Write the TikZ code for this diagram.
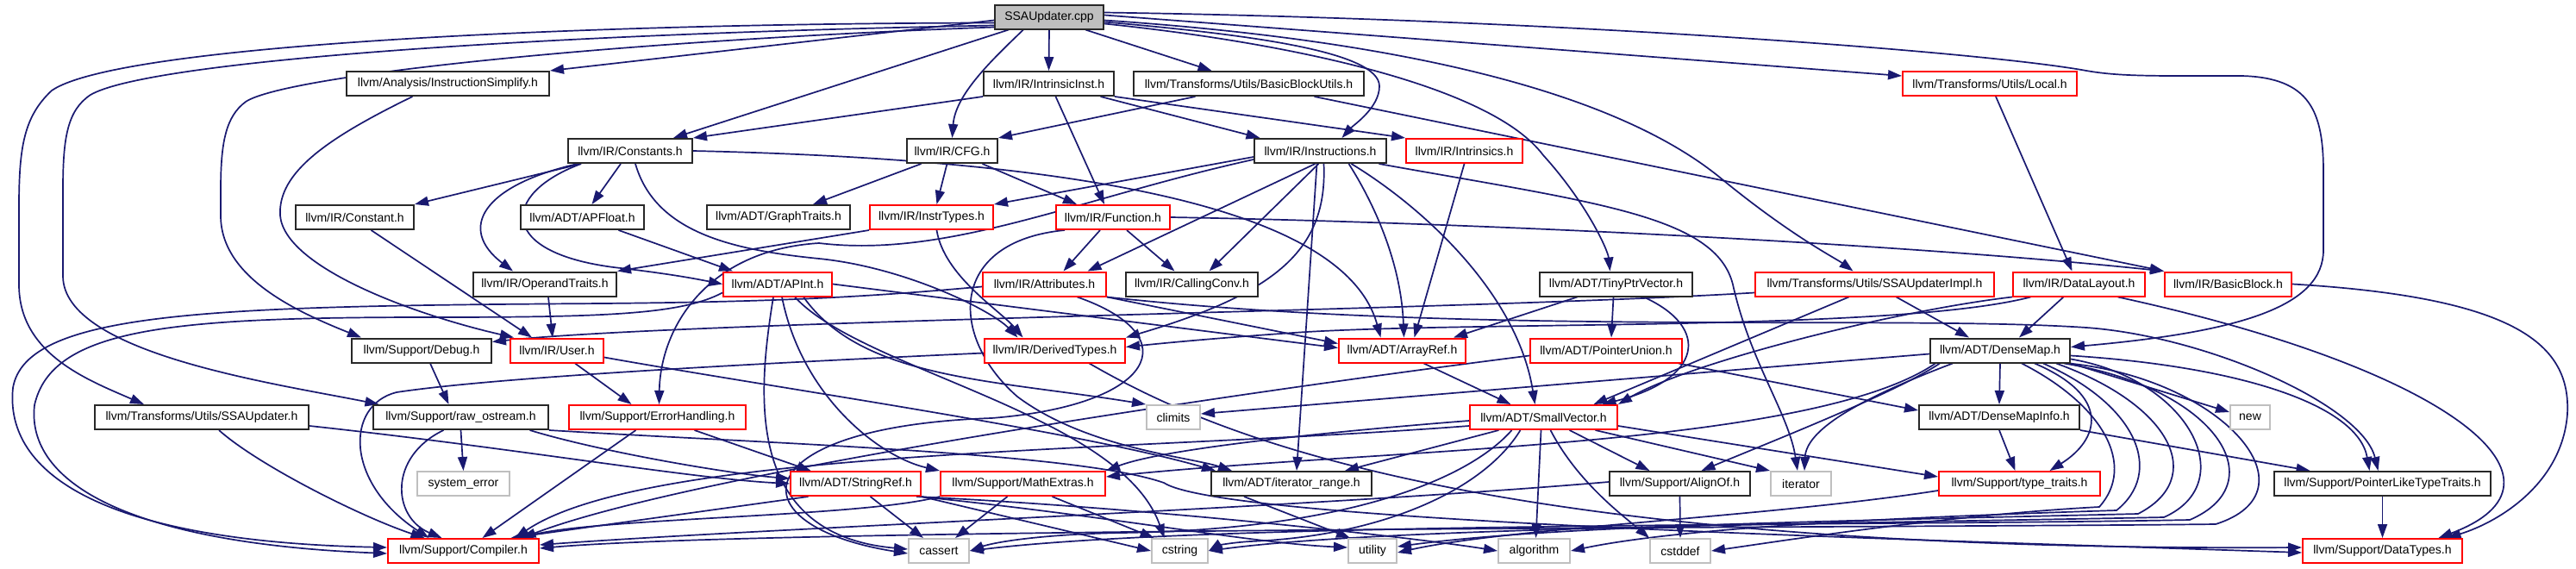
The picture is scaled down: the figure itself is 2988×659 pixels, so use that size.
\documentclass[tikz,border=0pt]{standalone}
\usepackage{fontspec}
\setmainfont{Liberation Sans}
\usetikzlibrary{arrows.meta}
\definecolor{edgeblue}{RGB}{25,25,112}
\definecolor{boxdark}{RGB}{40,40,40}
\definecolor{boxgray}{RGB}{191,191,191}
\definecolor{rootfill}{RGB}{191,191,191}
\pgfdeclarelayer{edgelayer}
\pgfsetlayers{edgelayer,main}
\tikzset{
  box/.style={draw=boxdark, line width=2pt, fill=white, rectangle, minimum height=28pt, inner sep=0pt, font=\fontsize{14}{16}\selectfont, text=black},
  redbox/.style={box, draw=red},
  graybox/.style={box, draw=boxgray},
  rootbox/.style={box, fill=rootfill},
  e/.style={draw=edgeblue, line width=1.7pt, -{Triangle[length=16pt,width=11pt]}},
}
\begin{document}
\begin{tikzpicture}[x=1pt,y=-1pt]
\useasboundingbox (0,0) rectangle (2988,659);
% row 0
\node[rootbox, minimum width=126pt] (root) at (1217,19.5) {SSAUpdater.cpp};
% row 1
\node[box, minimum width=235pt] (isimp) at (519.5,97) {llvm/Analysis/InstructionSimplify.h};
\node[box, minimum width=151pt] (iinst) at (1216.5,97) {llvm/IR/IntrinsicInst.h};
\node[box, minimum width=267pt] (bbutils) at (1448.5,97) {llvm/Transforms/Utils/BasicBlockUtils.h};
\node[redbox, minimum width=202pt] (local) at (2308,97) {llvm/Transforms/Utils/Local.h};
% row 2
\node[box, minimum width=144pt] (consts) at (731,175) {llvm/IR/Constants.h};
\node[box, minimum width=105pt] (cfg) at (1104.5,175) {llvm/IR/CFG.h};
\node[box, minimum width=153pt] (instrs) at (1531.5,175) {llvm/IR/Instructions.h};
\node[redbox, minimum width=135pt] (intrins) at (1698.5,175) {llvm/IR/Intrinsics.h};
% row 3
\node[box, minimum width=137pt] (constant) at (411.5,252) {llvm/IR/Constant.h};
\node[box, minimum width=143pt] (apfloat) at (675.5,252) {llvm/ADT/APFloat.h};
\node[box, minimum width=166pt] (graphtr) at (903,252) {llvm/ADT/GraphTraits.h};
\node[redbox, minimum width=143pt] (instrtypes) at (1080.5,252) {llvm/IR/InstrTypes.h};
\node[redbox, minimum width=132pt] (func) at (1291,252) {llvm/IR/Function.h};
% row 4
\node[box, minimum width=166pt] (opertr) at (632,329.5) {llvm/IR/OperandTraits.h};
\node[redbox, minimum width=126pt] (apint) at (902,329.5) {llvm/ADT/APInt.h};
\node[redbox, minimum width=143pt] (attrs) at (1211.5,329.5) {llvm/IR/Attributes.h};
\node[box, minimum width=153pt] (callconv) at (1382.5,329.5) {llvm/IR/CallingConv.h};
\node[box, minimum width=177pt] (tinyptr) at (1874.5,329.5) {llvm/ADT/TinyPtrVector.h};
\node[redbox, minimum width=277pt] (ssaimpl) at (2174.5,329.5) {llvm/Transforms/Utils/SSAUpdaterImpl.h};
\node[redbox, minimum width=153pt] (datalayout) at (2411.5,329.5) {llvm/IR/DataLayout.h};
\node[redbox, minimum width=147pt] (bblock) at (2584.5,329.5) {llvm/IR/BasicBlock.h};
% row 5
\node[box, minimum width=162pt] (debug) at (489,406.5) {llvm/Support/Debug.h};
\node[redbox, minimum width=108pt] (user) at (646,406.5) {llvm/IR/User.h};
\node[redbox, minimum width=163pt] (derived) at (1223.5,406.5) {llvm/IR/DerivedTypes.h};
\node[redbox, minimum width=147pt] (arrayref) at (1626.5,406.5) {llvm/ADT/ArrayRef.h};
\node[redbox, minimum width=176pt] (ptrunion) at (1863,406.5) {llvm/ADT/PointerUnion.h};
\node[box, minimum width=162pt] (densemap) at (2320,406.5) {llvm/ADT/DenseMap.h};
% row 6
\node[box, minimum width=248pt] (ssah) at (234,484) {llvm/Transforms/Utils/SSAUpdater.h};
\node[box, minimum width=203pt] (rawos) at (534.5,484) {llvm/Support/raw\_ostream.h};
\node[redbox, minimum width=205pt] (errh) at (762.5,484) {llvm/Support/ErrorHandling.h};
\node[graybox, minimum width=62pt] (climits) at (1361,484) {climits};
\node[redbox, minimum width=171pt] (smallvec) at (1790.5,484) {llvm/ADT/SmallVector.h};
\node[box, minimum width=186pt] (dmapinfo) at (2319,484) {llvm/ADT/DenseMapInfo.h};
\node[graybox, minimum width=46pt] (new) at (2610,484) {new};
% row 7
\node[graybox, minimum width=107pt] (syserr) at (537.5,561) {system\_error};
\node[redbox, minimum width=151pt] (strref) at (992.5,561) {llvm/ADT/StringRef.h};
\node[redbox, minimum width=191pt] (mathex) at (1186.5,561) {llvm/Support/MathExtras.h};
\node[box, minimum width=186pt] (itrange) at (1498,561) {llvm/ADT/iterator\_range.h};
\node[box, minimum width=163pt] (alignof) at (1948.5,561) {llvm/Support/AlignOf.h};
\node[graybox, minimum width=70pt] (iterator) at (2089,561) {iterator};
\node[redbox, minimum width=187pt] (typetr) at (2342.5,561) {llvm/Support/type\_traits.h};
\node[box, minimum width=251pt] (plt) at (2763.5,561) {llvm/Support/PointerLikeTypeTraits.h};
% row 8
\node[redbox, minimum width=175pt] (compiler) at (537.5,639) {llvm/Support/Compiler.h};
\node[graybox, minimum width=70pt] (cassert) at (1089,639) {cassert};
\node[graybox, minimum width=65pt] (cstring) at (1368.5,639) {cstring};
\node[graybox, minimum width=56pt] (utility) at (1592,639) {utility};
\node[graybox, minimum width=83pt] (algorithm) at (1779.5,639) {algorithm};
\node[graybox, minimum width=70pt] (cstddef) at (1949,639) {cstddef};
\node[redbox, minimum width=185pt] (datatypes) at (2763.5,639) {llvm/Support/DataTypes.h};

\begin{pgfonlayer}{edgelayer}
\fill[white] (0,0) rectangle (2988,659);
% root
\draw[e] ([yshift=-7pt]root.west) .. controls (700,27) and (140,50) .. (60,105) .. controls (28,135) and (22,170) .. (22,240) -- (22,330) .. controls (22,410) and (100,440) .. ([xshift=-67pt]ssah.north);
\draw[e] ([yshift=-10pt]root.west) .. controls (600,40) and (170,72) .. (105,110) .. controls (78,128) and (73,160) .. (73,220) -- (73,320) .. controls (73,410) and (320,445) .. ([xshift=-95pt]rawos.north);
\draw[e] ([yshift=-12pt]root.west) .. controls (700,48) and (330,88) .. (285,118) .. controls (262,135) and (256,165) .. (256,220) -- (256,250) .. controls (256,320) and (340,360) .. ([xshift=-70pt]debug.north);
\draw[e] ([yshift=-4pt]root.west) -- (isimp.north east);
\draw[e] ([xshift=-47pt]root.south) -- ([xshift=50pt]consts.north);
\draw[e] ([xshift=-30pt]root.south) .. controls (1150,70) and (1108,110) .. (cfg.north);
\draw[e] (root.south) -- (iinst.north);
\draw[e] ([xshift=42pt]root.south) -- ([xshift=-43pt]bbutils.north);
\draw[e] ([yshift=-6pt]root.east) .. controls (1450,40) and (1600,60) .. (1600,100) .. controls (1600,125) and (1570,145) .. ([xshift=25pt]instrs.north);
\draw[e] ([yshift=-8pt]root.east) .. controls (1500,50) and (1730,100) .. (1790,180) .. controls (1840,235) and (1865,290) .. ([xshift=-7pt]tinyptr.north);
\draw[e] ([yshift=-4pt]root.east) .. controls (1600,45) and (1870,100) .. (2000,210) .. controls (2080,275) and (2130,300) .. ([xshift=-25pt]ssaimpl.north);
\draw[e] ([yshift=2pt]root.east) -- ([yshift=9pt]local.west);
\draw[e] ([yshift=5pt]root.east) .. controls (1800,22) and (2300,60) .. (2420,82) .. controls (2460,89) and (2500,88) .. (2600,88) .. controls (2680,90) and (2695,130) .. (2695,200) -- (2695,290) .. controls (2695,355) and (2600,385) .. ([yshift=4pt]densemap.east);
% isimp
\draw[e] ([xshift=-41pt]isimp.south) .. controls (380,160) and (322,200) .. (325,250) .. controls (330,310) and (480,365) .. ([xshift=-50pt]user.north);
% iinst
\draw[e] (iinst.south west) -- (consts.north east);
\draw[e] ([xshift=8pt]iinst.south) -- ([xshift=-10pt]func.north);
\draw[e] ([xshift=60pt]iinst.south) -- ([xshift=-70pt]instrs.north);
\draw[e] (iinst.south east) -- (intrins.north west);
% bbutils
\draw[e] ([xshift=-62pt]bbutils.south) -- (cfg.north east);
\draw[e] ([xshift=76pt]bbutils.south) -- (bblock.north west);
% local
\draw[e] ([xshift=7pt]local.south) -- ([xshift=-8pt]datalayout.north);
% consts
\draw[e] ([xshift=-57pt]consts.south) -- (constant.north east);
\draw[e] ([xshift=-61pt]consts.south) .. controls (560,215) and (530,265) .. ([xshift=-37pt]opertr.north);
\draw[e] ([xshift=-57pt]consts.south) .. controls (580,225) and (575,295) .. (720,311) .. controls (780,318) and (810,324) .. (apint.west);
\draw[e] ([xshift=-11pt]consts.south) -- ([xshift=11pt]apfloat.north);
\draw[e] ([xshift=6pt]consts.south) .. controls (760,270) and (850,290) .. (950,300) .. controls (1050,310) and (1150,360) .. ([xshift=-43pt]derived.north);
\draw[e] (consts.east) .. controls (1250,185) and (1560,240) .. ([xshift=-25pt]arrayref.north);
% cfg
\draw[e] ([xshift=-36pt]cfg.south) -- ([xshift=40pt]graphtr.north);
\draw[e] ([xshift=-6pt]cfg.south) -- ([xshift=6pt]instrtypes.north);
\draw[e] ([xshift=35pt]cfg.south) -- ([xshift=-42pt]func.north);
% instrs
\draw[e] ([yshift=-7pt]instrs.west) -- (instrtypes.north east);
\draw[e] ([xshift=-6pt]instrs.south) -- ([xshift=50pt]attrs.north);
\draw[e] ([xshift=-2pt]instrs.south) -- ([xshift=20pt]callconv.north);
\draw[e] ([xshift=4pt]instrs.south) .. controls (1540,290) and (1480,340) .. (derived.north east);
\draw[e] ([yshift=-10pt]instrs.west) .. controls (1250,230) and (1100,300) .. (950,282) .. controls (820,290) and (766,380) .. ([xshift=2pt]errh.north);
\draw[e] ([xshift=33pt]instrs.south) .. controls (1590,230) and (1625,300) .. ([xshift=2pt]arrayref.north);
\draw[e] ([xshift=36pt]instrs.south) .. controls (1650,240) and (1760,340) .. ([xshift=-10pt]smallvec.north);
\draw[e] ([xshift=-4pt]instrs.south) -- ([xshift=6pt]itrange.north);
\draw[e] ([xshift=68pt]instrs.south) .. controls (1850,235) and (1990,250) .. (2010,330) .. controls (2030,420) and (2075,480) .. ([xshift=-4pt]iterator.north);
% intrins
\draw[e] (intrins.south) -- ([xshift=14pt]arrayref.north);
% constant, apfloat, instrtypes
\draw[e] ([xshift=19pt]constant.south) -- ([xshift=-29pt]user.north);
\draw[e] ([xshift=42pt]apfloat.south) -- ([xshift=-52pt]apint.north);
\draw[e] (instrtypes.south west) -- (opertr.north east);
\draw[e] ([xshift=6pt]instrtypes.south) .. controls (1095,320) and (1160,360) .. ([xshift=-37pt]derived.north);
% func
\draw[e] ([xshift=-15pt]func.south) -- ([xshift=22pt]attrs.north);
\draw[e] ([xshift=16pt]func.south) -- ([xshift=-20pt]callconv.north);
\draw[e] (func.east) .. controls (1700,258) and (2200,282) .. (bblock.north west);
\draw[e] ([xshift=-56pt]func.south) .. controls (1100,280) and (1100,390) .. (1180,460) .. controls (1260,520) and (1380,530) .. ([xshift=-69pt]itrange.north);
% opertr
\draw[e] ([xshift=4pt]opertr.south) -- ([xshift=-5pt]user.north);
% apint
\draw[e] (apint.east) -- ([yshift=3pt]arrayref.west);
\draw[e] ([xshift=30pt]apint.south) .. controls (1000,440) and (1150,440) .. (climits.north west);
\draw[e] ([xshift=-5pt]apint.south) .. controls (880,450) and (860,620) .. ([yshift=2pt]cassert.west);
\draw[e] ([xshift=5pt]apint.south) .. controls (930,460) and (1020,530) .. (mathex.north west);
\draw[e] ([xshift=20pt]apint.south) .. controls (1000,430) and (1300,480) .. ([xshift=-18pt]cstring.north);
\draw[e] ([yshift=-10pt]apint.west) .. controls (790,365) and (700,368) .. (500,368) .. controls (200,368) and (60,380) .. (40,470) .. controls (30,560) and (150,630) .. ([yshift=-3pt]compiler.west);
% attrs
\draw[e] ([yshift=-3pt]attrs.west) .. controls (1000,345) and (900,350) .. (700,352) .. controls (250,355) and (30,360) .. (15,450) .. controls (5,550) and (120,628) .. ([yshift=4pt]compiler.west);
\draw[e] (attrs.south east) -- ([yshift=8pt]arrayref.west);
\draw[e] (attrs.south east) .. controls (1700,390) and (2200,365) .. (2420,380) .. controls (2560,390) and (2740,470) .. ([xshift=-5pt]plt.north);
\draw[e] ([xshift=38pt]attrs.south) .. controls (1380,390) and (1340,470) .. (1150,485) .. controls (860,495) and (850,610) .. ([yshift=-3pt]cassert.west);
% tinyptr
\draw[e] ([xshift=-45pt]tinyptr.south) -- ([xshift=-15pt]arrayref.north east);
\draw[e] ([xshift=-3pt]tinyptr.south) -- ([xshift=6pt]ptrunion.north);
\draw[e] ([xshift=32pt]tinyptr.south) .. controls (1985,380) and (1975,440) .. ([xshift=68pt]smallvec.north);
% ssaimpl
\draw[e] ([yshift=-10pt]ssaimpl.west) .. controls (1700,360) and (800,372) .. ([yshift=10pt]debug.east);
\draw[e] ([xshift=-30pt]ssaimpl.south) -- ([xshift=58pt]smallvec.north);
\draw[e] ([xshift=25pt]ssaimpl.south) -- ([xshift=-36pt]densemap.north);
% datalayout
\draw[e] ([xshift=-18pt]datalayout.south) -- ([xshift=22pt]densemap.north);
\draw[e] ([xshift=-56pt]datalayout.south) .. controls (2200,385) and (1700,372) .. (1500,386) .. controls (1400,393) and (1350,398) .. ([yshift=4pt]derived.east);
\draw[e] (datalayout.south west) .. controls (2200,360) and (1960,420) .. (smallvec.north east);
\draw[e] ([xshift=45pt]datalayout.south) .. controls (2850,430) and (3000,560) .. ([xshift=65pt]datatypes.north);
% bblock
\draw[e] (bblock.east) .. controls (2920,345) and (2982,400) .. (2978,480) .. controls (2972,560) and (2900,605) .. ([xshift=75pt]datatypes.north);
% debug, user
\draw[e] ([xshift=10pt]debug.south) -- ([xshift=-14pt]rawos.north);
\draw[e] ([xshift=21pt]user.south) -- ([xshift=-30pt]errh.north);
\draw[e] ([yshift=-8pt]user.east) .. controls (900,450) and (1250,500) .. ([xshift=-88pt]itrange.north);
% derived
\draw[e] ([yshift=-3pt]derived.west) .. controls (800,425) and (560,440) .. (460,455) .. controls (400,470) and (400,560) .. ([xshift=-40pt]compiler.north);
\draw[e] ([xshift=40pt]derived.south) .. controls (1400,500) and (1700,640) .. ([yshift=4pt]datatypes.west);
% arrayref, ptrunion
\draw[e] ([xshift=25pt]arrayref.south) -- ([xshift=-38pt]smallvec.north);
\draw[e] ([xshift=-5pt]ptrunion.south east) -- ([yshift=8pt]dmapinfo.west);
\draw[e] ([yshift=-6pt]ptrunion.west) .. controls (1400,460) and (800,550) .. ([xshift=68pt]compiler.north);
% densemap
\draw[e] (densemap.south) -- (dmapinfo.north);
\draw[e] ([yshift=-4pt]densemap.west) -- ([yshift=4pt]climits.east);
\draw[e] (densemap.south east) -- ([yshift=6pt]new.west);
\draw[e] ([xshift=-55pt]densemap.south) .. controls (2150,465) and (2095,500) .. ([xshift=4pt]iterator.north);
\draw[e] ([xshift=-70pt]densemap.south) .. controls (2200,455) and (2060,510) .. ([xshift=25pt]alignof.north);
\draw[e] ([xshift=40pt]densemap.south) .. controls (2450,460) and (2435,510) .. ([xshift=35pt]typetr.north);
\draw[e] ([yshift=-6pt]densemap.east) .. controls (2600,425) and (2735,470) .. ([xshift=-15pt]plt.north);
\draw[e] ([xshift=-75pt]densemap.south) .. controls (2100,520) and (1600,520) .. ([yshift=8pt]mathex.east);
\draw[e] ([xshift=-2pt]densemap.south east) .. controls (2580,440) and (2690,570) .. (2570,608) .. controls (2250,612) and (900,612) .. ([yshift=3pt]compiler.east);
\draw[e] ([xshift=-8pt]densemap.south east) .. controls (2570,450) and (2640,560) .. (2540,603) .. controls (2200,610) and (1400,605) .. (cassert.east);
\draw[e] ([yshift=-10pt]densemap.east) .. controls (2540,440) and (2600,560) .. (2510,600) .. controls (2100,608) and (1600,612) .. (cstring.east);
\draw[e] ([xshift=65pt]densemap.south) .. controls (2520,470) and (2560,555) .. (2480,596) .. controls (2100,605) and (1800,610) .. ([yshift=5pt]utility.east);
\draw[e] ([xshift=50pt]densemap.south) .. controls (2480,470) and (2510,548) .. (2455,592) .. controls (2200,600) and (1950,612) .. (algorithm.east);
\draw[e] ([xshift=25pt]densemap.south) .. controls (2440,470) and (2478,540) .. (2435,588) .. controls (2250,598) and (2050,630) .. (cstddef.east);
% ssah, rawos, errh
\draw[e] ([xshift=20pt]ssah.south) .. controls (300,540) and (420,600) .. ([xshift=-45pt]compiler.north);
\draw[e] ([yshift=-10pt]ssah.east) .. controls (600,520) and (800,555) .. (strref.west);
\draw[e] (rawos.south east) .. controls (900,515) and (1250,525) .. (1350,560) .. controls (1420,605) and (2200,625) .. ([yshift=-2pt]datatypes.west);
\draw[e] ([xshift=-20pt]rawos.south) .. controls (450,530) and (455,600) .. ([xshift=-25pt]compiler.north);
\draw[e] (rawos.south) -- (syserr.north);
\draw[e] ([xshift=80pt]rawos.south) .. controls (700,525) and (850,550) .. ([yshift=6pt]strref.west);
\draw[e] ([xshift=-25pt]errh.south) -- ([xshift=22pt]compiler.north);
\draw[e] ([xshift=43pt]errh.south) -- ([xshift=-52pt]strref.north);
% strref
\draw[e] ([xshift=17pt]strref.south) -- ([xshift=-18pt]cassert.north);
\draw[e] (strref.south east) -- (cstring.west);
\draw[e] ([xshift=-3pt]strref.south east) .. controls (1300,600) and (1450,630) .. ([yshift=4pt]utility.west);
\draw[e] ([xshift=-6pt]strref.south east) .. controls (1350,590) and (1650,625) .. (algorithm.west);
\draw[e] ([xshift=-55pt]strref.south) -- ([xshift=55pt]compiler.north);
% mathex
\draw[e] ([xshift=-18pt]mathex.south) -- ([xshift=19pt]cassert.north);
\draw[e] ([xshift=34pt]mathex.south) -- ([xshift=-30pt]cstring.north);
\draw[e] (mathex.south west) .. controls (1000,600) and (700,600) .. ([xshift=65pt]compiler.north);
% smallvec
\draw[e] ([xshift=-52pt]smallvec.south) -- ([xshift=62pt]itrange.north);
\draw[e] ([yshift=-4pt]smallvec.west) .. controls (1550,500) and (1350,520) .. (mathex.north east);
\draw[e] ([yshift=-10pt]smallvec.west) .. controls (1300,525) and (750,520) .. ([xshift=60pt]compiler.north);
\draw[e] ([xshift=-37pt]smallvec.south) .. controls (1700,560) and (1550,615) .. (1300,618) .. controls (1200,620) and (1150,630) .. (cassert.east);
\draw[e] ([xshift=-27pt]smallvec.south) .. controls (1720,570) and (1600,622) .. (1450,628) .. controls (1420,630) and (1410,634) .. (cstring.east);
\draw[e] ([xshift=-3pt]smallvec.south) -- ([xshift=2pt]algorithm.north);
\draw[e] ([xshift=8pt]smallvec.south) .. controls (1830,560) and (1885,600) .. (cstddef.north west);
\draw[e] ([xshift=30pt]smallvec.south) -- ([xshift=-35pt]alignof.north);
\draw[e] ([xshift=60pt]smallvec.south) -- (iterator.north west);
\draw[e] ([yshift=-10pt]smallvec.east) -- ([yshift=8pt]typetr.west);
% dmapinfo, itrange, alignof, typetr, plt
\draw[e] (dmapinfo.south) -- ([xshift=-5pt]typetr.north);
\draw[e] (dmapinfo.south east) -- ([xshift=-84pt]plt.north);
\draw[e] ([xshift=-55pt]itrange.south) -- ([xshift=-26pt]utility.north);
\draw[e] (alignof.south) -- (cstddef.north);
\draw[e] ([yshift=2pt]alignof.west) .. controls (1500,590) and (900,612) .. ([yshift=7pt]compiler.east);
\draw[e] ([yshift=-8pt]typetr.west) .. controls (2050,600) and (1750,612) .. ([yshift=-2pt]utility.east);
\draw[e] (plt.south) -- (datatypes.north);
\end{pgfonlayer}
\end{tikzpicture}
\end{document}
